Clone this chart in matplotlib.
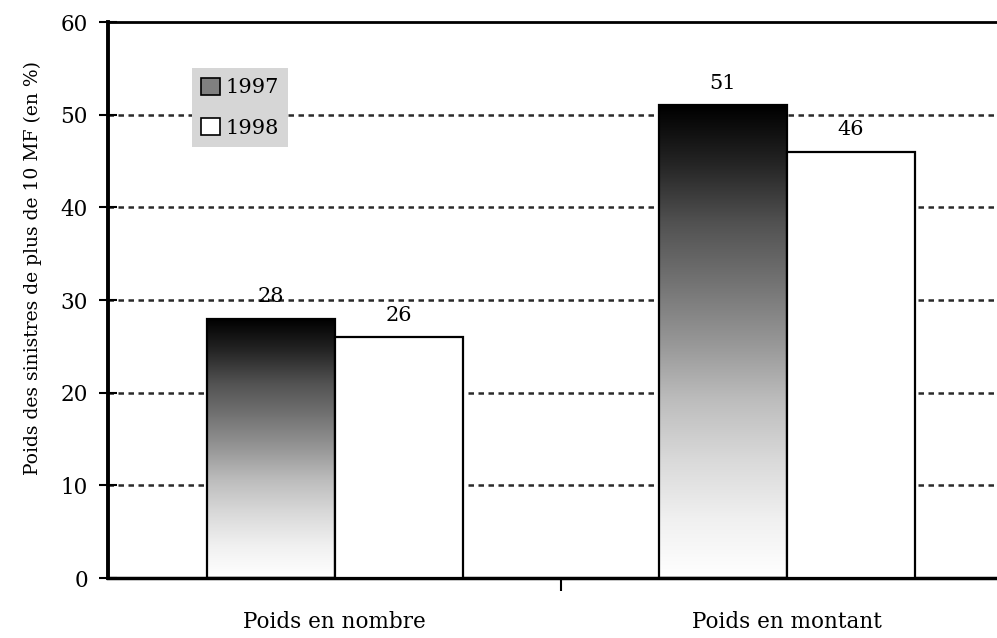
import numpy as np
import matplotlib
matplotlib.use("Agg")
import matplotlib.pyplot as plt
from matplotlib.patches import Patch, Rectangle

categories = ["Poids en nombre", "Poids en montant"]
years = ["1997", "1998"]
v1997 = [28, 51]
v1998 = [26, 46]

plt.rcParams["font.family"] = ["DejaVu Serif"]

fig = plt.figure(figsize=(9.97, 6.38), dpi=100)
ax = fig.add_axes([0.1083, 0.094, 0.8917, 0.8715])

x = np.arange(len(categories))
w = 0.283

# gradient for the 1997 bars (white at the bottom, black at the top)
grad = np.linspace(0, 1, 256).reshape(-1, 1)
bars97 = ax.bar(x - w / 2, v1997, w, fill=False, edgecolor="black", linewidth=1.6, zorder=3)
for b in bars97:
    x0, h = b.get_x(), b.get_height()
    im = ax.imshow(grad, cmap="Greys", vmin=0, vmax=1, origin="lower", aspect="auto",
                   extent=[x0, x0 + w, 0, h], zorder=2, interpolation="bilinear")
    clip = Rectangle((x0, 0), w, h, transform=ax.transData)
    im.set_clip_path(clip)
bars98 = ax.bar(x + w / 2, v1998, w, color="white", edgecolor="black", linewidth=1.6, zorder=3)

for b in list(bars97) + list(bars98):
    ax.annotate(f"{b.get_height():.0f}", (b.get_x() + b.get_width() / 2, b.get_height()),
                xytext=(0, 9), textcoords="offset points", ha="center", va="bottom",
                fontsize=15, family="DejaVu Serif")

ax.set_xlim(-0.502, 1.465)
ax.set_ylim(0, 60)
ax.set_yticks(range(0, 61, 10))
for yv in range(10, 60, 10):
    ax.axhline(yv, color="#2a2a2a", linewidth=1.8, linestyle=(0, (2.2, 1.8)), zorder=1)

ax.set_xticks(x)
ax.set_xticklabels(categories, fontsize=15.5)
ax.set_xticks([0.5], minor=True)
ax.tick_params(axis="x", which="major", length=0, pad=24)
ax.tick_params(axis="x", which="minor", length=9, width=1.5, direction="out")
ax.tick_params(axis="y", length=13, width=1.5, direction="inout", pad=8, labelsize=15.5)

ax.spines["left"].set_linewidth(2.8)
ax.spines["bottom"].set_linewidth(2.5)
ax.spines["top"].set_linewidth(2)
ax.spines["right"].set_visible(False)

ax.set_ylabel("Poids des sinistres de plus de 10 MF (en %)", fontsize=13.5)
ax.yaxis.set_label_coords(-0.074, 0.557)

handles = [Patch(facecolor="#808080", edgecolor="black", linewidth=1.2),
           Patch(facecolor="white", edgecolor="black", linewidth=1.2)]
leg = ax.legend(handles, years, loc="upper left", bbox_to_anchor=(0.0945, 0.917),
                borderaxespad=0, fontsize=15, handlelength=0.9, handleheight=0.9,
                handletextpad=0.25, labelspacing=1.0, borderpad=0.45,
                frameon=True, fancybox=False, facecolor="#d6d6d6", edgecolor="none",
                framealpha=1)
leg.set_zorder(5)

fig.savefig("out.png", dpi=100)
